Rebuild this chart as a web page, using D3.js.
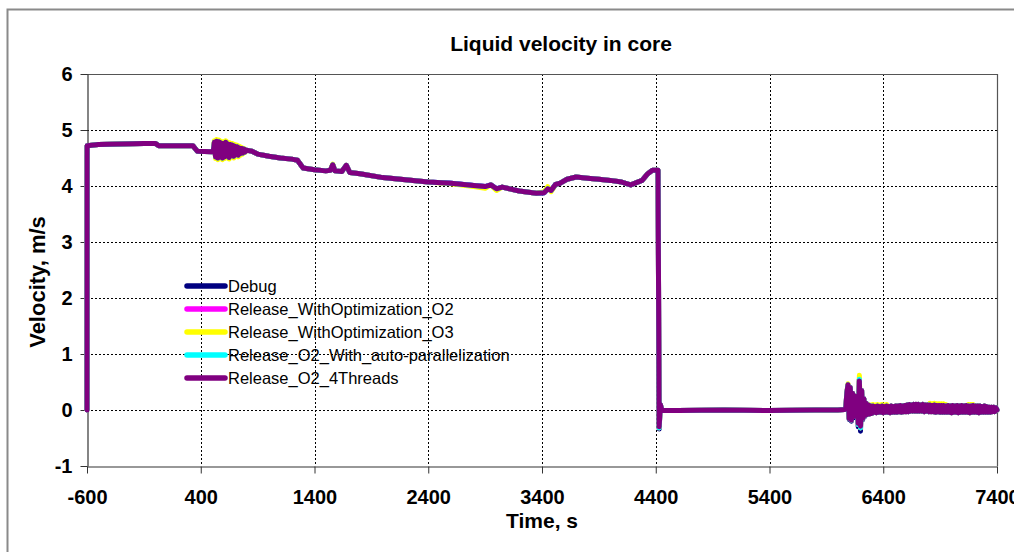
<!DOCTYPE html>
<html>
<head>
<meta charset="utf-8">
<script src="https://cdn.jsdelivr.net/npm/d3@7/dist/d3.min.js"></script>
<style>
  html, body { margin: 0; padding: 0; background: #fff; }
  svg { display: block; }
  text { font-family: "Liberation Sans", Arial, sans-serif; fill: #000; }
</style>
</head>
<body>
<svg id="chart" width="1014" height="552"></svg>
<script>
// ---------------- DATA ----------------
const chartTitle = "Liquid velocity in core";
const xTitle = "Time, s";
const yTitle = "Velocity, m/s";
const xTicks = [-600, 400, 1400, 2400, 3400, 4400, 5400, 6400, 7400];
const yTicks = [-1, 0, 1, 2, 3, 4, 5, 6];
const seriesNames = ["Debug", "Release_WithOptimization_O2", "Release_WithOptimization_O3",
                     "Release_O2_With_auto-parallelization", "Release_O2_4Threads"];
const seriesColors = ["#000080", "#ff00ff", "#ffff00", "#00ffff", "#800080"];

// shared time axis (s)
const timeS = [
  -600, -599, -500, -300, -100, 0, 30, 200, 330, 370, 500,
  510, 520, 530, 540, 550, 560, 570, 580, 590, 600,
  610, 620, 630, 640, 650, 660, 670, 680, 690, 700,
  710, 720, 730, 740, 750, 760, 770, 780, 790, 800,
  850, 900, 1000, 1100, 1200, 1250, 1300, 1400, 1500, 1540,
  1560, 1580, 1640, 1680, 1710, 1800, 2000, 2200, 2400, 2600,
  2800, 2900, 2950, 3000, 3050, 3200, 3350, 3420, 3450, 3480,
  3520, 3560, 3620, 3700, 3800, 3900, 4000, 4100, 4180, 4230,
  4280, 4330, 4370, 4420, 4430, 4440, 4455, 4600, 5000, 5400,
  5800, 6000, 6060,
  6070, 6080, 6090, 6100, 6110, 6120, 6130, 6140, 6150, 6160, 6170, 6180,
  6190, 6200, 6210, 6220, 6230, 6240, 6250, 6260, 6270, 6280, 6290, 6300,
  6310, 6320, 6330, 6340, 6350, 6360, 6370, 6380, 6390, 6400,
  6410, 6420, 6430, 6440, 6450, 6460, 6470, 6480, 6490, 6500,
  6510, 6520, 6530, 6540, 6550, 6560, 6570, 6580, 6590, 6600,
  6610, 6620, 6630, 6640, 6650, 6660, 6670, 6680, 6690, 6700,
  6710, 6720, 6730, 6740, 6750, 6760, 6770, 6780, 6790, 6800,
  6810, 6820, 6830, 6840, 6850, 6860, 6870, 6880, 6890, 6900,
  6910, 6920, 6930, 6940, 6950, 6960, 6970, 6980, 6990, 7000,
  7010, 7020, 7030, 7040, 7050, 7060, 7070, 7080, 7090, 7100,
  7110, 7120, 7130, 7140, 7150, 7160, 7170, 7180, 7190, 7200,
  7210, 7220, 7230, 7240, 7250, 7260, 7270, 7280, 7290, 7300,
  7310, 7320, 7330, 7340, 7350, 7360, 7370, 7380, 7390, 7400
];

const debugV = [
  0, 4.72, 4.74, 4.75, 4.76, 4.76, 4.72, 4.72, 4.72, 4.62, 4.61,
  4.62, 4.78, 4.52, 4.80, 4.50, 4.79, 4.53, 4.77, 4.50, 4.76,
  4.52, 4.78, 4.54, 4.75, 4.51, 4.74, 4.55, 4.73, 4.53, 4.71,
  4.56, 4.70, 4.55, 4.68, 4.58, 4.67, 4.59, 4.66, 4.61, 4.64,
  4.62, 4.57, 4.53, 4.50, 4.48, 4.46, 4.32, 4.29, 4.27, 4.28,
  4.38, 4.27, 4.26, 4.37, 4.24, 4.22, 4.15, 4.11, 4.07, 4.05,
  4.01, 3.99, 4.02, 3.95, 3.98, 3.91, 3.87, 3.88, 3.95, 3.92,
  4.03, 4.05, 4.12, 4.16, 4.14, 4.12, 4.10, 4.07, 4.02, 4.06,
  4.10, 4.22, 4.28, 4.28, -0.34, 0.10, -0.01, -0.01, 0.0, -0.01,
  0.0, 0.0, 0.01,
  0.02, 0.30, 0.45, -0.17, 0.40, -0.20, 0.30, -0.14, 0.25, -0.12, 0.20, -0.30,
  0.55, -0.38, 0.35, -0.17, 0.20, -0.11, 0.12, -0.08, 0.09, -0.07, 0.07, -0.06,
  0.07, -0.04, 0.06, -0.05, 0.07, -0.04, 0.06, -0.04, 0.07, -0.05,
  0.06, -0.04, 0.07, -0.04, 0.06, -0.05, 0.07, -0.04, 0.06, -0.04,
  0.07, -0.04, 0.07, -0.03, 0.08, -0.04, 0.07, -0.03, 0.08, -0.03,
  0.09, -0.03, 0.10, -0.02, 0.09, -0.02, 0.10, -0.02, 0.10, -0.02,
  0.10, -0.02, 0.09, -0.02, 0.10, -0.03, 0.09, -0.02, 0.09, -0.03,
  0.09, -0.03, 0.08, -0.03, 0.09, -0.04, 0.08, -0.03, 0.08, -0.04,
  0.08, -0.04, 0.08, -0.04, 0.07, -0.04, 0.08, -0.04, 0.07, -0.05,
  0.08, -0.04, 0.07, -0.04, 0.08, -0.05, 0.07, -0.04, 0.08, -0.04,
  0.07, -0.04, 0.08, -0.04, 0.07, -0.05, 0.07, -0.04, 0.08, -0.04,
  0.07, -0.04, 0.07, -0.05, 0.07, -0.04, 0.06, -0.04, 0.07, -0.04,
  0.06, -0.04, 0.05, -0.04, 0.05, -0.03, 0.05, -0.03, 0.04, 0.00
];
const o2V = [
  0, 4.72, 4.74, 4.75, 4.76, 4.76, 4.72, 4.72, 4.72, 4.62, 4.61,
  4.62, 4.78, 4.52, 4.80, 4.50, 4.79, 4.53, 4.77, 4.50, 4.76,
  4.52, 4.78, 4.54, 4.75, 4.51, 4.74, 4.55, 4.73, 4.53, 4.71,
  4.56, 4.70, 4.55, 4.68, 4.58, 4.67, 4.59, 4.66, 4.61, 4.64,
  4.62, 4.57, 4.53, 4.50, 4.48, 4.46, 4.32, 4.29, 4.27, 4.28,
  4.38, 4.27, 4.26, 4.37, 4.24, 4.22, 4.15, 4.11, 4.07, 4.05,
  4.01, 3.99, 4.02, 3.95, 3.98, 3.91, 3.87, 3.88, 3.95, 3.92,
  4.03, 4.05, 4.12, 4.16, 4.14, 4.12, 4.10, 4.07, 4.02, 4.06,
  4.10, 4.22, 4.28, 4.28, -0.32, 0.10, -0.01, -0.01, 0.0, -0.01,
  0.0, 0.0, 0.01,
  0.02, 0.30, 0.45, -0.15, 0.40, -0.18, 0.30, -0.12, 0.25, -0.10, 0.20, -0.26,
  0.55, -0.32, 0.35, -0.15, 0.20, -0.10, 0.12, -0.08, 0.09, -0.07, 0.07, -0.06,
  0.07, -0.04, 0.06, -0.05, 0.07, -0.04, 0.06, -0.04, 0.07, -0.05,
  0.06, -0.04, 0.07, -0.04, 0.06, -0.05, 0.07, -0.04, 0.06, -0.04,
  0.07, -0.04, 0.07, -0.03, 0.08, -0.04, 0.07, -0.03, 0.08, -0.03,
  0.09, -0.03, 0.10, -0.02, 0.09, -0.02, 0.10, -0.02, 0.10, -0.02,
  0.10, -0.02, 0.09, -0.02, 0.10, -0.03, 0.09, -0.02, 0.09, -0.03,
  0.09, -0.03, 0.08, -0.03, 0.09, -0.04, 0.08, -0.03, 0.08, -0.04,
  0.08, -0.04, 0.08, -0.04, 0.07, -0.04, 0.08, -0.04, 0.07, -0.05,
  0.08, -0.04, 0.07, -0.04, 0.08, -0.05, 0.07, -0.04, 0.08, -0.04,
  0.07, -0.04, 0.08, -0.04, 0.07, -0.05, 0.07, -0.04, 0.08, -0.04,
  0.07, -0.04, 0.07, -0.05, 0.07, -0.04, 0.06, -0.04, 0.07, -0.04,
  0.06, -0.04, 0.05, -0.04, 0.05, -0.03, 0.05, -0.03, 0.04, 0.00
];
const o3V = [
  0, 4.72, 4.74, 4.75, 4.76, 4.76, 4.72, 4.72, 4.72, 4.62, 4.61,
  4.63, 4.81, 4.49, 4.83, 4.47, 4.82, 4.50, 4.80, 4.47, 4.79,
  4.49, 4.81, 4.51, 4.78, 4.48, 4.77, 4.52, 4.76, 4.50, 4.74,
  4.53, 4.73, 4.52, 4.71, 4.55, 4.69, 4.57, 4.67, 4.60, 4.64,
  4.62, 4.57, 4.53, 4.50, 4.48, 4.46, 4.32, 4.29, 4.27, 4.28,
  4.39, 4.27, 4.26, 4.37, 4.24, 4.22, 4.15, 4.11, 4.07, 4.04,
  3.99, 3.96, 4.02, 3.92, 3.98, 3.91, 3.87, 3.90, 3.99, 3.90,
  4.03, 4.05, 4.12, 4.16, 4.14, 4.12, 4.10, 4.07, 4.02, 4.06,
  4.10, 4.22, 4.28, 4.28, -0.32, 0.10, -0.01, -0.01, 0.0, -0.01,
  0.0, 0.0, 0.01,
  0.02, 0.30, 0.47, -0.15, 0.40, -0.18, 0.30, -0.12, 0.25, -0.10, 0.20, -0.26,
  0.62, -0.32, 0.35, -0.15, 0.20, -0.10, 0.12, -0.08, 0.10, -0.07, 0.09, -0.06,
  0.10, -0.04, 0.09, -0.05, 0.10, -0.04, 0.09, -0.04, 0.10, -0.05,
  0.09, -0.04, 0.10, -0.04, 0.06, -0.05, 0.07, -0.04, 0.06, -0.04,
  0.07, -0.04, 0.07, -0.03, 0.08, -0.04, 0.07, -0.03, 0.08, -0.03,
  0.09, -0.03, 0.10, -0.02, 0.09, -0.02, 0.10, -0.02, 0.10, -0.02,
  0.10, -0.02, 0.09, -0.02, 0.10, -0.03, 0.09, -0.02, 0.09, -0.03,
  0.12, -0.03, 0.11, -0.03, 0.12, -0.04, 0.11, -0.03, 0.11, -0.04,
  0.11, -0.04, 0.11, -0.04, 0.10, -0.04, 0.08, -0.04, 0.07, -0.05,
  0.08, -0.04, 0.07, -0.04, 0.08, -0.05, 0.07, -0.04, 0.08, -0.04,
  0.07, -0.04, 0.08, -0.04, 0.10, -0.05, 0.10, -0.04, 0.10, -0.04,
  0.07, -0.04, 0.07, -0.05, 0.07, -0.04, 0.06, -0.04, 0.07, -0.04,
  0.06, -0.04, 0.05, -0.04, 0.05, -0.03, 0.05, -0.03, 0.04, 0.00
];
const autoParV = [
  0, 4.72, 4.74, 4.75, 4.76, 4.76, 4.72, 4.72, 4.72, 4.62, 4.61,
  4.62, 4.78, 4.52, 4.80, 4.50, 4.79, 4.53, 4.77, 4.50, 4.76,
  4.52, 4.78, 4.54, 4.75, 4.51, 4.74, 4.55, 4.73, 4.53, 4.71,
  4.56, 4.70, 4.55, 4.68, 4.58, 4.67, 4.59, 4.66, 4.61, 4.64,
  4.62, 4.57, 4.53, 4.50, 4.48, 4.46, 4.32, 4.29, 4.27, 4.28,
  4.38, 4.27, 4.26, 4.37, 4.24, 4.22, 4.15, 4.11, 4.07, 4.05,
  4.01, 3.99, 4.02, 3.95, 3.98, 3.91, 3.87, 3.88, 3.95, 3.92,
  4.03, 4.05, 4.12, 4.16, 4.14, 4.12, 4.10, 4.07, 4.02, 4.06,
  4.10, 4.22, 4.28, 4.28, -0.32, 0.10, -0.01, -0.01, 0.0, -0.01,
  0.0, 0.0, 0.01,
  0.02, 0.30, 0.45, -0.15, 0.40, -0.18, 0.30, -0.12, 0.25, -0.10, 0.20, -0.26,
  0.55, -0.32, 0.35, -0.15, 0.20, -0.10, 0.12, -0.08, 0.09, -0.07, 0.07, -0.06,
  0.07, -0.04, 0.06, -0.05, 0.07, -0.04, 0.06, -0.04, 0.07, -0.05,
  0.06, -0.04, 0.07, -0.04, 0.06, -0.05, 0.07, -0.04, 0.06, -0.04,
  0.07, -0.04, 0.07, -0.03, 0.08, -0.04, 0.07, -0.03, 0.08, -0.03,
  0.09, -0.03, 0.10, -0.02, 0.09, -0.02, 0.10, -0.02, 0.10, -0.02,
  0.10, -0.02, 0.09, -0.02, 0.10, -0.03, 0.09, -0.02, 0.09, -0.03,
  0.09, -0.03, 0.08, -0.03, 0.09, -0.04, 0.08, -0.03, 0.08, -0.04,
  0.08, -0.04, 0.08, -0.04, 0.07, -0.04, 0.08, -0.04, 0.07, -0.05,
  0.08, -0.04, 0.07, -0.04, 0.08, -0.05, 0.07, -0.04, 0.08, -0.04,
  0.07, -0.04, 0.08, -0.04, 0.07, -0.05, 0.07, -0.04, 0.08, -0.04,
  0.07, -0.04, 0.07, -0.05, 0.07, -0.04, 0.06, -0.04, 0.07, -0.04,
  0.06, -0.04, 0.05, -0.04, 0.05, -0.03, 0.05, -0.03, 0.04, 0.00
];
const threads4V = [
  0, 4.72, 4.74, 4.75, 4.76, 4.76, 4.72, 4.72, 4.72, 4.62, 4.61,
  4.62, 4.78, 4.52, 4.80, 4.50, 4.79, 4.53, 4.77, 4.50, 4.76,
  4.52, 4.78, 4.54, 4.75, 4.51, 4.74, 4.55, 4.73, 4.53, 4.71,
  4.56, 4.70, 4.55, 4.68, 4.58, 4.67, 4.59, 4.66, 4.61, 4.64,
  4.62, 4.57, 4.53, 4.50, 4.48, 4.46, 4.32, 4.29, 4.27, 4.28,
  4.38, 4.27, 4.26, 4.37, 4.24, 4.22, 4.15, 4.11, 4.07, 4.05,
  4.01, 3.99, 4.02, 3.95, 3.98, 3.91, 3.87, 3.88, 3.95, 3.92,
  4.03, 4.05, 4.12, 4.16, 4.14, 4.12, 4.10, 4.07, 4.02, 4.06,
  4.10, 4.22, 4.28, 4.28, -0.30, 0.10, -0.01, -0.01, 0.0, -0.01,
  0.0, 0.0, 0.01,
  0.02, 0.30, 0.45, -0.15, 0.40, -0.18, 0.30, -0.12, 0.25, -0.10, 0.20, -0.24,
  0.52, -0.29, 0.35, -0.15, 0.20, -0.10, 0.12, -0.08, 0.09, -0.07, 0.07, -0.06,
  0.07, -0.04, 0.06, -0.05, 0.07, -0.04, 0.06, -0.04, 0.07, -0.05,
  0.06, -0.04, 0.07, -0.04, 0.06, -0.05, 0.07, -0.04, 0.06, -0.04,
  0.07, -0.04, 0.07, -0.03, 0.08, -0.04, 0.07, -0.03, 0.08, -0.03,
  0.09, -0.03, 0.10, -0.02, 0.09, -0.02, 0.10, -0.02, 0.10, -0.02,
  0.10, -0.02, 0.09, -0.02, 0.10, -0.03, 0.09, -0.02, 0.09, -0.03,
  0.09, -0.03, 0.08, -0.03, 0.09, -0.04, 0.08, -0.03, 0.08, -0.04,
  0.08, -0.04, 0.08, -0.04, 0.07, -0.04, 0.08, -0.04, 0.07, -0.05,
  0.08, -0.04, 0.07, -0.04, 0.08, -0.05, 0.07, -0.04, 0.08, -0.04,
  0.07, -0.04, 0.08, -0.04, 0.07, -0.05, 0.07, -0.04, 0.08, -0.04,
  0.07, -0.04, 0.07, -0.05, 0.07, -0.04, 0.06, -0.04, 0.07, -0.04,
  0.06, -0.04, 0.05, -0.04, 0.05, -0.03, 0.05, -0.03, 0.04, 0.00
];
const seriesValues = [debugV, o2V, o3V, autoParV, threads4V];

// ---------------- CHART ----------------
const svg = d3.select("#chart");
const W = 1014, H = 552;
const plot = { left: 87, right: 997, top: 74, bottom: 466 };

const x = d3.scaleLinear().domain([-600, 7400]).range([plot.left, plot.right]);
const y = d3.scaleLinear().domain([-1, 6]).range([plot.bottom, plot.top]);

// outer chart border
svg.append("rect")
  .attr("x", 7.5).attr("y", 9.5)
  .attr("width", W + 20).attr("height", H + 20)
  .attr("fill", "none").attr("stroke", "#8a8a8a").attr("stroke-width", 2);

// title
svg.append("text")
  .attr("x", 561).attr("y", 51)
  .attr("text-anchor", "middle")
  .style("font-size", "21px").style("font-weight", "bold")
  .text(chartTitle);

// grid lines
svg.append("g").selectAll("line")
  .data(yTicks.filter(d => d > -1 && d < 6))
  .join("line")
  .attr("x1", plot.left).attr("x2", plot.right)
  .attr("y1", d => Math.round(y(d)) + 0.5).attr("y2", d => Math.round(y(d)) + 0.5)
  .attr("stroke", "#000").attr("stroke-width", 1).attr("stroke-dasharray", "2,2");
svg.append("g").selectAll("line")
  .data(xTicks.filter(d => d > -600 && d < 7400))
  .join("line")
  .attr("x1", d => Math.round(x(d)) + 0.5).attr("x2", d => Math.round(x(d)) + 0.5)
  .attr("y1", plot.top).attr("y2", plot.bottom)
  .attr("stroke", "#000").attr("stroke-width", 1).attr("stroke-dasharray", "2,2");

// frame top / right
svg.append("line").attr("x1", plot.left).attr("x2", plot.right + 0.5)
  .attr("y1", plot.top + 0.5).attr("y2", plot.top + 0.5)
  .attr("stroke", "#555").attr("stroke-width", 1.2);
svg.append("line").attr("x1", plot.right + 0.5).attr("x2", plot.right + 0.5)
  .attr("y1", plot.top).attr("y2", plot.bottom)
  .attr("stroke", "#555").attr("stroke-width", 1.2);

// axes
const fmt = d => String(d);
const xAxis = d3.axisBottom(x).tickValues(xTicks).tickFormat(fmt).tickSize(7).tickSizeOuter(0).tickPadding(16);
const yAxis = d3.axisLeft(y).tickValues(yTicks).tickFormat(fmt).tickSize(7).tickSizeOuter(0).tickPadding(8);

const gx = svg.append("g").attr("transform", `translate(0,${plot.bottom + 0.5})`).call(xAxis);
const gy = svg.append("g").attr("transform", `translate(${plot.left + 0.5},0)`).call(yAxis);
[gx, gy].forEach(g => {
  g.select(".domain").attr("stroke", "#333").attr("stroke-width", 1.2);
  g.selectAll(".tick line").attr("stroke", "#333");
  g.selectAll(".tick text")
    .style("font-family", "'Liberation Sans', Arial, sans-serif")
    .style("font-size", "20px").style("font-weight", "bold").attr("fill", "#000");
});

// axis titles
svg.append("text")
  .attr("x", 542).attr("y", 528)
  .attr("text-anchor", "middle")
  .style("font-size", "21px").style("font-weight", "bold")
  .text(xTitle);
svg.append("text")
  .attr("transform", `translate(45,282) rotate(-90)`)
  .attr("text-anchor", "middle")
  .style("font-size", "22px").style("font-weight", "bold")
  .text(yTitle);

// series lines
const line = d3.line()
  .x((d, i) => x(timeS[i]))
  .y(d => y(d));
const gLines = svg.append("g");
seriesValues.forEach((vals, k) => {
  gLines.append("path")
    .datum(vals)
    .attr("d", line)
    .attr("fill", "none")
    .attr("stroke", seriesColors[k])
    .attr("stroke-width", 5)
    .attr("stroke-linejoin", "round")
    .attr("stroke-linecap", "round");
});

// legend
const legend = svg.append("g").attr("transform", "translate(187,286)");
seriesNames.forEach((name, k) => {
  const gy0 = k * 23;
  legend.append("line")
    .attr("x1", 0).attr("x2", 38)
    .attr("y1", gy0).attr("y2", gy0)
    .attr("stroke", seriesColors[k]).attr("stroke-width", 5.5)
    .attr("stroke-linecap", "round");
  legend.append("text")
    .attr("x", 41).attr("y", gy0 + 6)
    .style("font-size", "16.5px")
    .text(name);
});
</script>
</body>
</html>
